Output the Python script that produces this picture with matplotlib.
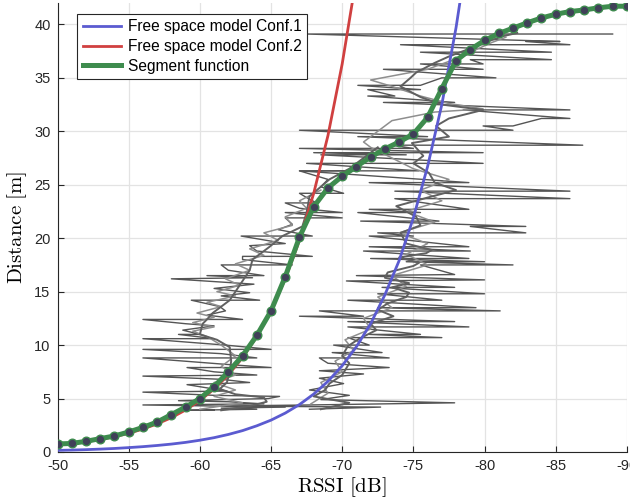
import matplotlib
matplotlib.use("Agg")
import matplotlib.pyplot as plt

# ---------------- data ----------------
# Segment function (RSSI in dB -> distance in m)
seg_rssi = [-50, -51, -52, -53, -54, -55, -56, -57, -58, -59, -60, -61, -62, -63, -64,
            -65, -66, -67, -68, -69, -70, -71, -72, -73, -74, -75, -76, -77, -78, -79,
            -80, -81, -82, -83, -84, -85, -86, -87, -88, -89, -90]
seg_dist = [0.75, 0.8, 1.0, 1.25, 1.5, 1.87, 2.3, 2.8, 3.5, 4.2, 5.0, 6.1, 7.5, 9.0, 10.9,
            13.2, 16.4, 20.1, 22.95, 24.7, 25.8, 26.7, 27.6, 28.35, 29.0, 29.75, 31.3, 34.0, 36.6, 37.65,
            38.5, 39.15, 39.65, 40.15, 40.6, 40.95, 41.2, 41.35, 41.55, 41.7, 41.7]

# Free space model Conf.1
fs1_rssi = [-50, -51, -52, -53, -54, -55, -56, -57, -58, -59, -60, -61, -62, -63, -64,
            -65, -66, -67, -68, -69, -70, -71, -72, -73, -74, -75, -76, -77, -78, -79]
fs1_dist = [0.15, 0.18, 0.22, 0.27, 0.33, 0.41, 0.50, 0.61, 0.74, 0.90, 1.10, 1.34, 1.64, 2.00, 2.45,
            2.98, 3.64, 4.44, 5.42, 6.61, 8.07, 9.85, 12.0, 14.7, 17.9, 21.9, 26.7, 32.5, 39.7, 48.4]

# Free space model Conf.2
fs2_rssi = [-50, -51, -52, -53, -54, -55, -56, -57, -58, -59, -60, -61, -62, -63, -64,
            -65, -66, -67, -68, -69, -70, -71, -72]
fs2_dist = [0.64, 0.78, 0.96, 1.17, 1.43, 1.75, 2.15, 2.63, 3.21, 3.93, 4.81, 5.89, 7.21, 8.82, 10.8,
            13.2, 16.2, 19.8, 24.2, 29.6, 36.3, 44.4, 54.3]

# Measurements Conf.2 - raw (distance, RSSI)
m2_raw_dist = [3.9, 3.9, 4.0, 4.1, 4.2, 4.4, 4.5, 4.7, 4.8, 5.0, 5.2, 5.3, 5.6, 5.7, 6.0,
               6.3, 6.5, 6.8, 7.1, 7.2, 7.5, 7.9, 7.9, 8.2, 8.8, 8.8, 9.2, 9.6, 9.6, 10.0,
               10.6, 10.6, 11.0, 11.0, 11.4, 11.8, 12.0, 12.4, 12.4, 12.8, 13.2, 13.6, 14.2, 14.2, 14.6,
               14.9, 15.3, 15.7, 16.2, 16.3, 16.5, 16.5, 17.0, 17.5, 17.5, 18.0, 18.3, 18.3, 18.8, 19.3,
               19.5, 20.2, 20.2, 20.8, 21.3, 21.9, 21.9, 22.4, 22.4, 22.8, 23.3, 23.3, 23.8, 24.2, 24.2,
               24.8, 25.5, 26.3, 26.3]
m2_raw_rssi = [-61.0, -59.1, -64.0, -61.5, -66.0, -56.0, -64.5, -62.0, -58.5, -64.8, -65.6, -61.0, -56.0, -61.9, -60.5,
               -59.1, -63.5, -61.5, -56.0, -64.0, -61.0, -59.1, -65.0, -61.8, -56.0, -64.0, -61.5, -56.0, -65.0, -61.8,
               -56.0, -61.0, -58.5, -60.0, -58.8, -61.0, -59.0, -56.0, -63.0, -60.5, -61.8, -61.4, -59.4, -64.2, -61.5,
               -63.5, -61.0, -63.8, -58.0, -63.7, -60.5, -64.5, -62.0, -61.5, -66.5, -63.0, -63.0, -67.9, -64.0, -63.5,
               -66.0, -62.9, -67.9, -65.5, -66.5, -66.0, -70.0, -66.0, -70.0, -67.0, -66.0, -68.2, -67.5, -67.0, -70.1,
               -68.5, -69.0, -67.0, -70.6]

# Measurements Conf.2 - smoothed
m2_s1_dist = [3.9, 4.3, 4.7, 5.1, 5.4, 5.9, 6.5, 7.5, 8.5, 9.8, 10.5, 11.0, 12.0, 12.4, 13.0,
              14.2, 15.2, 17.0, 18.0, 19.2, 20.2, 21.1, 22.4, 23.9, 25.5, 26.5, 27.5, 28.5]
m2_s1_rssi = [-61.5, -63.5, -64.7, -64.5, -62.5, -61.4, -61.9, -62.1, -62.2, -62.1, -61.2, -60.0, -60.2, -60.5, -60.9,
              -62.1, -62.6, -63.5, -63.7, -64.9, -65.8, -67.2, -67.5, -67.7, -69.1, -70.5, -71.5, -72.5]
m2_s2_dist = [4.0, 4.6, 5.2, 5.8, 6.5, 7.2, 8.0, 9.0, 10.0, 10.8, 11.3, 11.7, 12.1, 12.6, 13.0,
              13.6, 14.0, 14.6, 15.0, 15.6, 16.2, 17.0, 17.6, 18.4, 19.0, 19.8, 20.5, 21.2, 22.0, 22.8,
              23.5, 24.5]
m2_s2_rssi = [-60.0, -63.0, -61.0, -62.5, -61.0, -62.5, -61.5, -62.5, -61.5, -60.5, -59.5, -61.0, -59.5, -61.0, -59.8,
              -61.5, -60.5, -62.5, -61.2, -62.8, -61.8, -63.5, -62.5, -64.5, -63.5, -65.5, -64.5, -66.5, -66.0, -67.5,
              -67.0, -68.5]

# Measurements Conf.1 - raw
m1_raw_dist = [4.0, 4.2, 4.3, 4.4, 4.6, 4.9, 5.3, 5.8, 6.4, 6.9, 7.3, 7.6, 7.9, 8.3, 8.8,
               8.8, 9.3, 9.3, 10.0, 10.0, 10.7, 10.7, 11.0, 11.0, 11.7, 11.7, 12.2, 12.2, 12.7, 12.7,
               13.2, 13.2, 13.5, 13.5, 14.2, 14.2, 14.8, 14.8, 15.4, 15.4, 16.0, 16.1, 16.5, 16.6, 17.5,
               17.5, 17.8, 17.8, 18.1, 18.1, 18.8, 18.8, 19.2, 19.2, 20.2, 20.2, 20.5, 20.5, 21.1, 21.1,
               21.6, 21.6, 22.4, 22.4, 22.7, 22.7, 23.7, 23.7, 24.4, 24.4, 25.2, 25.2, 26.3, 26.3, 27.0,
               27.0, 27.8, 27.8, 28.0, 28.0, 28.4, 28.4, 28.7, 28.7, 29.5, 29.5, 30.1, 30.1, 30.5, 30.5,
               31.2, 31.2, 32.0, 32.0, 32.7, 32.7, 33.3, 33.3, 33.9, 33.9, 34.3, 34.3, 35.0, 35.0, 35.8,
               35.8, 36.3, 36.3, 36.7, 36.7, 37.4, 37.4, 38.1, 38.1, 38.4, 38.4, 39.1, 39.1]
m1_raw_rssi = [-67.7, -72.7, -61.5, -67.7, -77.9, -68.5, -70.5, -67.7, -70.1, -68.4, -71.5, -68.4, -73.3, -69.0, -68.4,
               -73.3, -69.3, -72.8, -69.4, -71.9, -70.4, -77.0, -71.9, -75.5, -70.4, -78.9, -70.4, -77.9, -67.0, -71.5,
               -68.4, -81.1, -72.5, -79.4, -70.4, -77.0, -72.5, -80.0, -72.8, -77.9, -70.3, -80.0, -71.0, -77.9, -75.5,
               -82.0, -74.5, -80.0, -72.0, -78.9, -71.5, -79.0, -71.9, -78.9, -71.9, -75.0, -72.5, -82.9, -79.0, -82.9,
               -71.3, -76.8, -71.1, -75.5, -71.9, -78.9, -73.7, -86.0, -73.7, -86.0, -71.9, -78.9, -67.0, -75.4, -67.5,
               -79.9, -68.5, -74.5, -68.0, -79.9, -67.0, -75.0, -73.5, -86.9, -71.1, -76.0, -67.0, -82.0, -79.9, -82.0,
               -84.0, -86.0, -78.5, -86.0, -72.9, -77.9, -71.8, -73.7, -71.8, -75.5, -71.1, -75.5, -77.0, -80.8, -72.9,
               -79.9, -75.5, -79.9, -79.0, -84.7, -75.5, -84.7, -74.1, -86.0, -82.9, -85.3, -67.5, -89.0]

# Measurements Conf.1 - smoothed
m1_s1_dist = [4.0, 4.6, 5.2, 5.8, 6.4, 7.2, 8.3, 9.0, 9.9, 10.6, 11.4, 12.0, 12.7, 13.3, 13.9,
              14.5, 14.9, 15.4, 15.8, 16.3, 16.8, 17.4, 17.7, 18.2, 18.6, 18.9, 19.5, 20.5, 21.2, 22.0,
              23.0, 23.8, 24.5, 25.2, 26.1, 27.0, 27.7, 28.9, 29.5, 30.5, 31.2, 32.0, 32.5, 33.2, 34.2,
              35.0, 35.5, 36.4, 37.0, 37.7, 38.3, 38.9, 39.2]
m1_s1_rssi = [-68.5, -70.5, -68.0, -68.8, -69.1, -70.0, -70.5, -70.0, -70.4, -71.2, -72.4, -72.0, -73.6, -72.5, -73.2,
              -74.5, -74.7, -73.5, -74.7, -73.0, -73.2, -75.0, -75.4, -74.0, -75.9, -76.3, -74.5, -74.1, -75.5, -75.2,
              -73.8, -76.0, -78.0, -76.5, -76.1, -75.0, -75.7, -74.9, -77.5, -76.6, -77.5, -79.9, -77.0, -75.5, -74.1,
              -74.8, -75.2, -76.5, -77.5, -78.9, -80.0, -81.3, -82.3]
m1_s2_dist = [4.5, 5.5, 6.5, 7.5, 8.5, 9.5, 10.5, 11.5, 12.5, 13.5, 14.5, 15.5, 16.5, 17.5, 18.5,
              19.5, 20.5, 21.5, 22.5, 23.5, 24.5, 25.5, 26.5, 27.5, 28.5, 29.0, 30.0, 31.0, 31.8, 32.1,
              32.6, 33.3, 34.2, 34.8, 35.3, 35.8, 36.3, 37.0, 37.7, 38.3, 38.8]
m1_s2_rssi = [-67.8, -69.0, -68.5, -70.0, -69.5, -70.8, -70.2, -72.0, -71.5, -73.5, -72.5, -74.5, -73.5, -76.0, -74.5,
              -76.0, -74.0, -76.5, -74.5, -77.0, -75.5, -77.5, -75.0, -73.5, -72.0, -71.5, -72.5, -73.5, -76.5, -79.9,
              -77.5, -75.5, -73.5, -72.0, -74.0, -76.0, -77.0, -78.5, -79.5, -80.5, -81.5]

x_ticks = [-50, -55, -60, -65, -70, -75, -80, -85, -90]
y_ticks = [0, 5, 10, 15, 20, 25, 30, 35, 40]
legend_labels = ["Free space model Conf.1", "Free space model Conf.2", "Segment function"]

# ---------------- plot ----------------
plt.rcParams["mathtext.fontset"] = "cm"
plt.rcParams["font.family"] = ["Liberation Sans", "DejaVu Sans"]

fig = plt.figure(figsize=(6.30, 5.03), dpi=100)
ax = fig.add_axes([0.0913, 0.1014, 0.9037, 0.8926])

raw_col = "#555555"
s1_col = "#606060"
s2_col = "#8e8e8e"

ax.plot(m2_raw_rssi, m2_raw_dist, color=raw_col, lw=1.0, zorder=2)
ax.plot(m1_raw_rssi, m1_raw_dist, color=raw_col, lw=1.0, zorder=2)
ax.plot(m2_s2_rssi, m2_s2_dist, color=s2_col, lw=1.1, zorder=2)
ax.plot(m1_s2_rssi, m1_s2_dist, color=s2_col, lw=1.1, zorder=2)
ax.plot(m2_s1_rssi, m2_s1_dist, color=s1_col, lw=1.4, zorder=2)
ax.plot(m1_s1_rssi, m1_s1_dist, color=s1_col, lw=1.4, zorder=2)

h1, = ax.plot(fs1_rssi, fs1_dist, color="#5b5bd0", lw=2.0, zorder=3)
h2, = ax.plot(fs2_rssi, fs2_dist, color="#d04040", lw=2.0, zorder=3)
h3, = ax.plot(seg_rssi, seg_dist, color="#3e8c4e", lw=3.6, zorder=4)
ax.plot(seg_rssi, seg_dist, linestyle="none", marker="o", markersize=6.2,
        markerfacecolor="#404058", markeredgecolor="#3e8c4e", markeredgewidth=1.0, zorder=5)

ax.set_xlim(-50, -90)
ax.set_ylim(0, 42)
ax.set_xticks(x_ticks)
ax.set_xticklabels([str(v) for v in x_ticks])
ax.set_yticks(y_ticks)
ax.tick_params(direction="in", length=4, width=0.8, colors="#262626", labelsize=10.5, pad=5)
ax.grid(True, color="#e3e3e3", lw=0.9, zorder=0)
ax.set_axisbelow(True)
for s in ["top", "right"]:
    ax.spines[s].set_visible(False)
for s in ["left", "bottom"]:
    ax.spines[s].set_color("#262626")
    ax.spines[s].set_linewidth(0.8)

ax.set_xlabel(r"$\mathrm{RSSI\ [dB]}$", fontsize=15, labelpad=2)
ax.set_ylabel(r"$\mathrm{Distance\ [m]}$", fontsize=15, labelpad=4)

leg = ax.legend([h1, h2, h3], legend_labels, loc="upper left", fontsize=11.2,
                bbox_to_anchor=(0.0345, 0.9755), frameon=True, fancybox=False,
                handlelength=2.45, handletextpad=0.45, borderpad=0.35, labelspacing=0.3,
                borderaxespad=0.0)
leg.get_frame().set_edgecolor("#262626")
leg.get_frame().set_linewidth(0.8)
leg.get_frame().set_alpha(1.0)
leg.set_zorder(10)

fig.savefig("out.png", dpi=100)
